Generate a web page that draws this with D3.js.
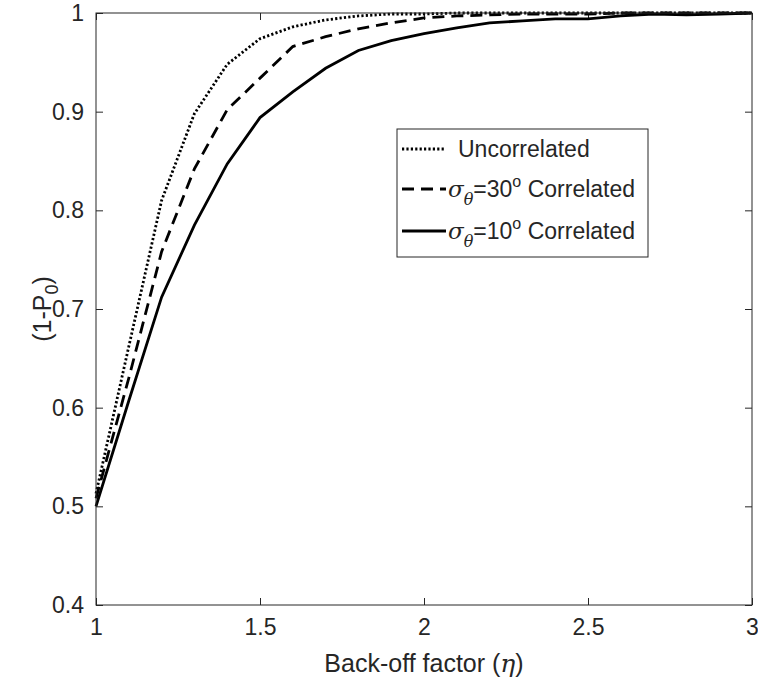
<!DOCTYPE html>
<html>
<head>
<meta charset="utf-8">
<script src="https://cdn.jsdelivr.net/npm/d3@7"></script>
<style>
  body { margin: 0; background: #fff; }
  text { font-family: "Liberation Sans", Arial, Helvetica, sans-serif; fill: #262626; }
  .tex { font-family: "DejaVu Serif", "Liberation Serif", serif; font-style: italic; }
</style>
</head>
<body>
<div id="chart"></div>
<script>
// back-off factor samples
let etaValues = [1.0, 1.1, 1.2, 1.3, 1.4, 1.5, 1.6, 1.7, 1.8, 1.9, 2.0,
                 2.1, 2.2, 2.3, 2.4, 2.5, 2.6, 2.7, 2.8, 2.9, 3.0];
// (1-P0) for each case
let uncorrelated = [0.513, 0.662, 0.810, 0.898, 0.948, 0.974, 0.986, 0.993, 0.997, 0.999, 0.999,
                    1.000, 1.000, 1.000, 1.000, 1.000, 1.000, 1.000, 1.000, 1.000, 1.000];
let corr30 = [0.508, 0.630, 0.758, 0.842, 0.902, 0.934, 0.966, 0.976, 0.984, 0.990, 0.995,
              0.997, 0.998, 0.999, 0.999, 0.999, 1.000, 1.000, 1.000, 1.000, 1.000];
let corr10 = [0.500, 0.607, 0.712, 0.785, 0.847, 0.894, 0.920, 0.944, 0.962, 0.972, 0.979,
              0.985, 0.990, 0.992, 0.994, 0.994, 0.997, 0.999, 0.998, 0.999, 1.000];
let xTicks = [1, 1.5, 2, 2.5, 3];
let yTicks = [0.4, 0.5, 0.6, 0.7, 0.8, 0.9, 1];

let svgWidth = 758, svgHeight = 681;
let margin = { top: 13, right: 6, bottom: 76, left: 96 };
let chartWidth = svgWidth - margin.left - margin.right;
let chartHeight = svgHeight - margin.top - margin.bottom;

let svg = d3.select("#chart").append("svg")
    .attr("width", svgWidth)
    .attr("height", svgHeight);
let chartGroup = svg.append("g")
    .attr("transform", `translate(${margin.left},${margin.top})`);

let xScale = d3.scaleLinear().domain([1, 3]).range([0, chartWidth]);
let yScale = d3.scaleLinear().domain([0.4, 1]).range([chartHeight, 0]);

let axisColor = "#262626";
let fontSize = "23px";
let labelSize = "25px";
let fmt = d => String(d);

// axes, ticks inside, mirrored on top/right
function styleAxis(g) {
    g.select(".domain").remove();
    g.selectAll("line").attr("stroke", axisColor);
    g.selectAll("text").style("font-size", fontSize).attr("fill", axisColor);
}
chartGroup.append("g")
    .attr("transform", `translate(0,${chartHeight})`)
    .call(d3.axisBottom(xScale).tickValues(xTicks).tickFormat(fmt).tickSizeInner(-7).tickPadding(14))
    .call(styleAxis);
chartGroup.append("g")
    .call(d3.axisTop(xScale).tickValues(xTicks).tickFormat("").tickSizeInner(-7))
    .call(styleAxis);
chartGroup.append("g")
    .call(d3.axisLeft(yScale).tickValues(yTicks).tickFormat(fmt).tickSizeInner(-7).tickPadding(12))
    .call(styleAxis);
chartGroup.append("g")
    .attr("transform", `translate(${chartWidth},0)`)
    .call(d3.axisRight(yScale).tickValues(yTicks).tickFormat("").tickSizeInner(-7))
    .call(styleAxis);

let series = [
    { name: "Uncorrelated", values: uncorrelated, dash: "2.2,2.2", width: 2.8 },
    { name: "30", values: corr30, dash: "12,7", width: 2.8 },
    { name: "10", values: corr10, dash: null, width: 2.8 }
];

let line = d3.line()
    .x((d, i) => xScale(etaValues[i]))
    .y(d => yScale(d));

series.forEach(s => {
    chartGroup.append("path")
        .datum(s.values)
        .attr("fill", "none")
        .attr("stroke", "#000")
        .attr("stroke-width", s.width)
        .attr("stroke-dasharray", s.dash)
        .attr("d", line);
});

// box
chartGroup.append("rect")
    .attr("width", chartWidth)
    .attr("height", chartHeight)
    .attr("fill", "none")
    .attr("stroke", axisColor)
    .attr("stroke-width", 1);

// axis labels
let xl = svg.append("text")
    .attr("x", margin.left + chartWidth / 2)
    .attr("y", 672)
    .attr("text-anchor", "middle")
    .style("font-size", labelSize);
xl.append("tspan").text("Back-off factor (");
xl.append("tspan").attr("class", "tex").text("η");
xl.append("tspan").text(")");

let yl = svg.append("text")
    .attr("transform", `translate(51,${margin.top + chartHeight / 2}) rotate(-90)`)
    .attr("text-anchor", "middle")
    .style("font-size", labelSize);
yl.append("tspan").text("(1-P");
yl.append("tspan").attr("dy", 7).style("font-size", "18px").text("0");
yl.append("tspan").attr("dy", -7).text(")");

// legend
let legend = svg.append("g").attr("transform", "translate(397,129)");
legend.append("rect")
    .attr("width", 251)
    .attr("height", 128)
    .attr("fill", "#fff")
    .attr("stroke", axisColor)
    .attr("stroke-width", 1);

let rowY = [20, 60, 102];
series.forEach((s, i) => {
    let row = legend.append("g").attr("transform", `translate(0,${rowY[i]})`);
    row.append("line")
        .attr("x1", 5).attr("x2", 49)
        .attr("y1", 0).attr("y2", 0)
        .attr("stroke", "#000")
        .attr("stroke-width", s.width)
        .attr("stroke-dasharray", s.dash);
    let t = row.append("text").attr("x", 51).attr("y", 8).style("font-size", fontSize);
    if (i === 0) {
        t.attr("x", 61).text(s.name);
    } else {
        t.append("tspan").attr("class", "tex").text("σ");
        t.append("tspan").attr("class", "tex").attr("dy", 8).style("font-size", "16px").text("θ");
        t.append("tspan").attr("dy", -8).text("=" + s.name);
        t.append("tspan").attr("dy", -10).style("font-size", "16px").text("o");
        t.append("tspan").attr("dy", 10).text(" Correlated");
    }
});
</script>
</body>
</html>
